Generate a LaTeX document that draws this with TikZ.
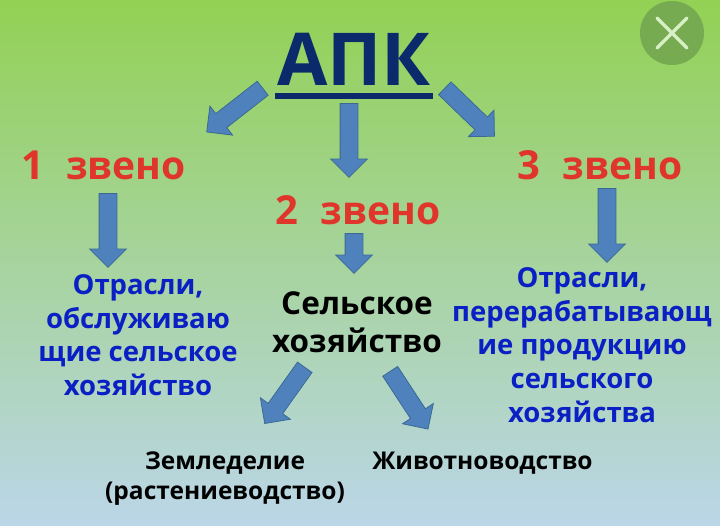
\documentclass[tikz,border=0pt]{standalone}
\usepackage{fontspec}
\setmainfont{Open Sans}
\usetikzlibrary{positioning}
\usetikzlibrary{shapes.arrows}

\definecolor{arrowblue}{HTML}{4F81BD}
\definecolor{arrowedge}{HTML}{3A6A94}
\definecolor{zvenored}{HTML}{E0352B}
\definecolor{titlenavy}{HTML}{0B2A6B}
\definecolor{textblue}{HTML}{0A1FC4}
\definecolor{closefill}{HTML}{76AB52}
\definecolor{closecross}{HTML}{D8F0C4}

\newcommand{\zvenotext}[1]{\fontsize{40}{40}\selectfont #1\hspace{22pt}\fontsize{39}{40}\selectfont звено}

\tikzset{
  blockarrow/.style={single arrow, draw=arrowedge, fill=arrowblue, line width=0.8pt,
    inner sep=8.5pt, single arrow head extend=9.5pt, single arrow tip angle=90, anchor=tail},
  zveno/.style={text=zvenored, font=\bfseries},
  otrasl/.style={text=textblue, align=center, font=\bfseries\fontsize{27.5}{33.6}\selectfont},
  blacktext/.style={text=black, align=center, font=\bfseries\fontsize{24.5}{30}\selectfont},
}

\begin{document}
\begin{tikzpicture}[x=1pt,y=-1pt]

  % Background
  \shade[top color={rgb,255:red,146;green,209;blue,84}, middle color={rgb,255:red,164;green,211;blue,138},
    bottom color={rgb,255:red,187;green,214;blue,232}] (0,0) rectangle (720,525);
  \useasboundingbox (0,0) rectangle (720,525);

  % Close button
  \fill[closefill] (672,33) circle (32);
  \draw[line width=3.5pt, line cap=round, closecross] (657,18) -- (687,48);
  \draw[line width=3.5pt, line cap=round, closecross] (687,18) -- (657,48);

  % Title
  \node (apk) at (354,59) [text=titlenavy, font=\bfseries\fontsize{73}{73}\selectfont] {АПК};
  \draw[line width=6pt, titlenavy] (275,96) -- (433,96);

  % Arrows
  \node (arrowa) at (263,88) [blockarrow, minimum height=71pt, rotate=218] {};
  \node (arrowb) at (349,103) [blockarrow, minimum height=74pt, rotate=-90] {};
  \node (arrowc) at (444.5,88) [blockarrow, minimum height=69pt, rotate=-44] {};
  \node (arrowd) at (108,193) [blockarrow, minimum height=74pt, rotate=-90] {};
  \node (arrowe) at (354,233) [blockarrow, minimum height=40pt, rotate=-90] {};
  \node (arrowf) at (607,188) [blockarrow, minimum height=74pt, rotate=-90] {};
  \node (arrowg) at (305,367) [blockarrow, minimum height=69pt, rotate=234.5] {};
  \node (arrowh) at (390,371) [blockarrow, minimum height=69pt, rotate=-56.8] {};

  % Labels
  \node (zvenoa) at (103.5,165) [zveno] {\zvenotext{1}};
  \node (zvenob) at (358,210) [zveno] {\zvenotext{2}};
  \node (zvenoc) at (600,165) [zveno] {\zvenotext{3}};

  \node (otrasla) at (138,335) [otrasl] {Отрасли,\\обслуживаю\\щие сельское\\хозяйство};
  \node (selhoz) at (357,322) [blacktext, font=\bfseries\fontsize{31.5}{38}\selectfont] {Сельское\\хозяйство};
  \node (otraslc) at (582,345) [otrasl] {Отрасли,\\перерабатывающ\\ие продукцию\\сельского\\хозяйства};

  \node (zemled) at (225,479) [blacktext] {Земледелие\\(растениеводство)};
  \node (zhivot) at (482.5,463) [blacktext] {Животноводство};
\end{tikzpicture}
\end{document}
